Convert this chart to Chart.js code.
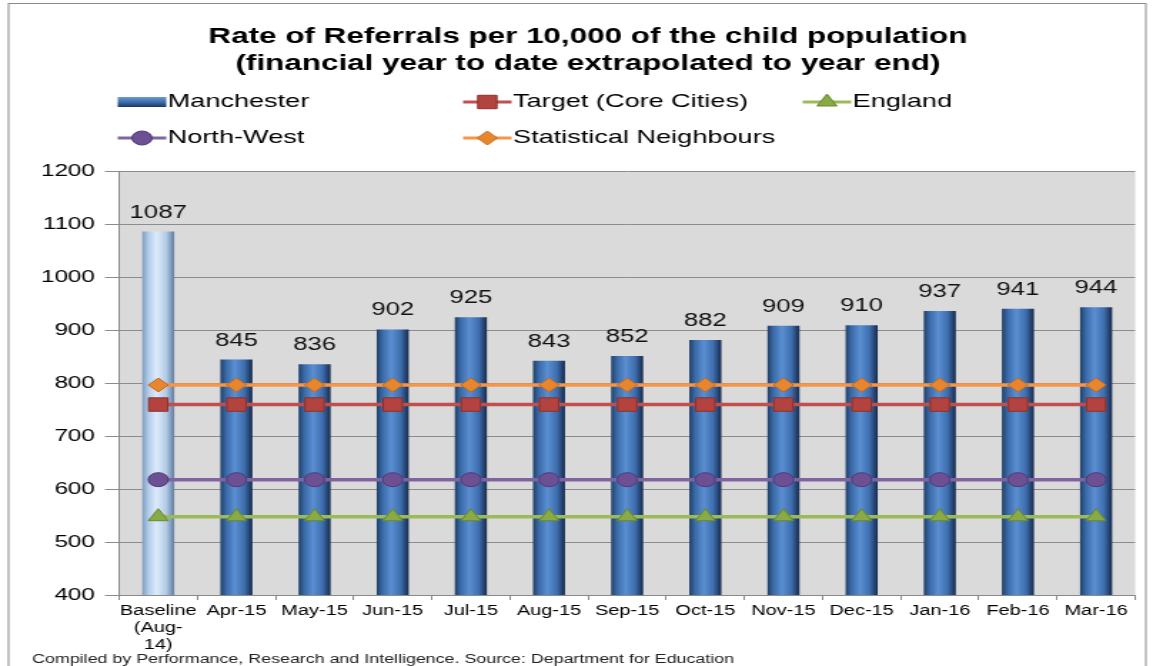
<!DOCTYPE html>
<html>
<head>
<meta charset="utf-8">
<script src="https://cdn.jsdelivr.net/npm/chart.js@4.4.0/dist/chart.umd.min.js"></script>
<style>
  html, body { margin: 0; padding: 0; background: #fff; }
  #wrap { position: relative; width: 1153px; height: 666px; overflow: hidden; }
  /* the reference is stretched sideways, so the canvas is drawn narrow and widened here */
  #referralsChart { transform: scaleX(1.42698); transform-origin: 0 0; }
</style>
</head>
<body>
<div id="wrap"><canvas id="referralsChart" width="808" height="666"></canvas></div>
<script>
// data
const categories = [['Baseline', '(Aug-', '14)'], 'Apr-15', 'May-15', 'Jun-15', 'Jul-15', 'Aug-15', 'Sep-15', 'Oct-15', 'Nov-15', 'Dec-15', 'Jan-16', 'Feb-16', 'Mar-16'];
const manchester = [1087, 845, 836, 902, 925, 843, 852, 882, 909, 910, 937, 941, 944];
const targetCoreCities = [760, 760, 760, 760, 760, 760, 760, 760, 760, 760, 760, 760, 760];
const england = [548, 548, 548, 548, 548, 548, 548, 548, 548, 548, 548, 548, 548];
const northWest = [618, 618, 618, 618, 618, 618, 618, 618, 618, 618, 618, 618, 618];
const statNeighbours = [797, 797, 797, 797, 797, 797, 797, 797, 797, 797, 797, 797, 797];
const yTicks = [400, 500, 600, 700, 800, 900, 1000, 1100, 1200];

const titleLines = ['Rate of Referrals per 10,000 of the child population', '(financial year to date extrapolated to year end)'];
const footerText = 'Compiled by Performance, Research and Intelligence. Source: Department for Education';

const FONT = '"Liberation Sans", Arial, sans-serif';
Chart.defaults.font.family = FONT;
Chart.defaults.color = '#000';

const BAR_RATIO = 0.41;
const barStops = [[0, '#203f66'], [0.18, '#3a6aa8'], [0.45, '#5a8fd2'], [0.75, '#3e6eae'], [1, '#16294a']];
const baseStops = [[0, '#7e9cc0'], [0.2, '#b4cdea'], [0.45, '#dcebfb'], [0.75, '#b2cae6'], [1, '#5f7b9e']];

// cylinder look: horizontal gradient per bar, worked out from the x scale
function barFill(ctx) {
  const chart = ctx.chart;
  const xs = chart.scales.x;
  const flat = ctx.dataIndex === 0 ? '#b4cdea' : '#4f81bd';
  if (ctx.type !== 'data' || !xs) return flat;
  const cx = xs.getPixelForValue(ctx.dataIndex);
  const half = xs.width / categories.length * BAR_RATIO / 2;
  if (!isFinite(cx) || !isFinite(half) || half <= 0) return flat;
  const g = chart.ctx.createLinearGradient(cx - half, 0, cx + half, 0);
  const stops = ctx.dataIndex === 0 ? baseStops : barStops;
  stops.forEach(s => g.addColorStop(s[0], s[1]));
  return g;
}

function lineSet(label, data, lineColor, markColor, edgeColor, style, radius) {
  return {
    type: 'line',
    label: label,
    data: data,
    borderColor: lineColor,
    borderWidth: 3.5,
    pointStyle: style,
    pointRadius: radius,
    pointBackgroundColor: markColor,
    pointBorderColor: edgeColor,
    pointBorderWidth: 1,
    fill: false,
    tension: 0,
    order: 1
  };
}

const plotBackground = {
  id: 'plotBackground',
  beforeDraw(chart) {
    const { ctx, chartArea: a } = chart;
    ctx.save();
    ctx.fillStyle = '#fff';
    ctx.fillRect(0, 0, chart.width, chart.height);
    ctx.strokeStyle = '#8a8a8a';
    ctx.lineWidth = 1;
    ctx.strokeRect(6, 3.5, 797, 720);
    ctx.fillStyle = '#dadada';
    ctx.fillRect(a.left, a.top, a.right - a.left, a.bottom - a.top);
    ctx.restore();
  }
};

const barValues = {
  id: 'barValues',
  afterDatasetsDraw(chart) {
    const { ctx } = chart;
    const meta = chart.getDatasetMeta(0);
    ctx.save();
    ctx.font = '18px ' + FONT;
    ctx.fillStyle = '#111';
    ctx.textAlign = 'center';
    ctx.textBaseline = 'middle';
    meta.data.forEach((bar, i) => {
      ctx.fillText(String(chart.data.datasets[0].data[i]), bar.x, bar.y - 19);
    });
    ctx.restore();
  }
};

const gridLegend = {
  id: 'gridLegend',
  afterDraw(chart) {
    const { ctx } = chart;
    const cols = [82.5, 324.5, 562.5];
    const rows = [102, 138];
    ctx.save();
    ctx.font = '19px ' + FONT;
    ctx.textBaseline = 'middle';
    ctx.textAlign = 'left';
    chart.data.datasets.forEach((ds, i) => {
      const x = cols[i % 3];
      const y = rows[Math.floor(i / 3)];
      if (ds.type === 'line') {
        ctx.strokeStyle = ds.borderColor;
        ctx.lineWidth = 3;
        ctx.beginPath();
        ctx.moveTo(x, y);
        ctx.lineTo(x + 34, y);
        ctx.stroke();
        ctx.fillStyle = ds.pointBackgroundColor;
        ctx.strokeStyle = ds.pointBorderColor;
        ctx.lineWidth = 1;
        Chart.helpers.drawPoint(ctx, { pointStyle: ds.pointStyle, radius: ds.pointRadius, borderWidth: 1, rotation: 0 }, x + 17, y);
      } else {
        const g = ctx.createLinearGradient(0, y - 5, 0, y + 5);
        g.addColorStop(0, '#6c9ad6');
        g.addColorStop(0.5, '#3f6fae');
        g.addColorStop(1, '#1d365a');
        ctx.fillStyle = g;
        ctx.fillRect(x, y - 5, 34, 10);
      }
      ctx.fillStyle = '#000';
      ctx.fillText(ds.label, x + 35, y);
    });
    ctx.font = '12.5px ' + FONT;
    ctx.fillStyle = '#222';
    ctx.fillText(footerText, 22.5, 660);
    ctx.restore();
  }
};

new Chart(document.getElementById('referralsChart'), {
  type: 'bar',
  data: {
    labels: categories,
    datasets: [
      {
        type: 'bar',
        label: 'Manchester',
        data: manchester,
        backgroundColor: barFill,
        borderWidth: 0,
        categoryPercentage: 1,
        barPercentage: BAR_RATIO,
        order: 10
      },
      lineSet('Target (Core Cities)', targetCoreCities, '#c0504d', '#b3433f', '#8c2f2c', 'rect', 9.5),
      lineSet('England', england, '#9bbb59', '#89aa44', '#6a8a2c', 'triangle', 8),
      lineSet('North-West', northWest, '#8064a2', '#6d4f94', '#523a74', 'circle', 7),
      lineSet('Statistical Neighbours', statNeighbours, '#f79646', '#e8862f', '#c46a1c', 'rectRot', 7)
    ]
  },
  options: {
    responsive: false,
    animation: false,
    devicePixelRatio: 1,
    layout: { padding: { left: 28.5, right: 12.5, top: 0, bottom: 0 } },
    plugins: {
      legend: { display: false },
      tooltip: { enabled: false },
      title: {
        display: true,
        text: titleLines,
        font: { size: 22, weight: 'bold', lineHeight: 1.2 },
        color: '#000',
        padding: { top: 24, bottom: 95 }
      }
    },
    scales: {
      x: {
        offset: true,
        grid: { display: true, drawOnChartArea: false, drawTicks: true, tickLength: 5, color: '#8a8a8a' },
        border: { color: '#8a8a8a' },
        ticks: {
          autoSkip: false,
          maxRotation: 0,
          padding: 3,
          font: { size: 14, lineHeight: 1.2 },
          color: '#000'
        },
        afterFit(s) { s.height = 71; }
      },
      y: {
        min: 400,
        max: 1200,
        afterBuildTicks(s) { s.ticks = yTicks.map(v => ({ value: v })); },
        grid: { color: '#8c8c8c', tickLength: 10, lineWidth: 1 },
        border: { color: '#8a8a8a' },
        ticks: { padding: 7, font: { size: 17 }, color: '#000', callback: v => String(v) },
        afterFit(s) { s.width = 55; }
      }
    }
  },
  plugins: [plotBackground, barValues, gridLegend]
});
</script>
</body>
</html>
